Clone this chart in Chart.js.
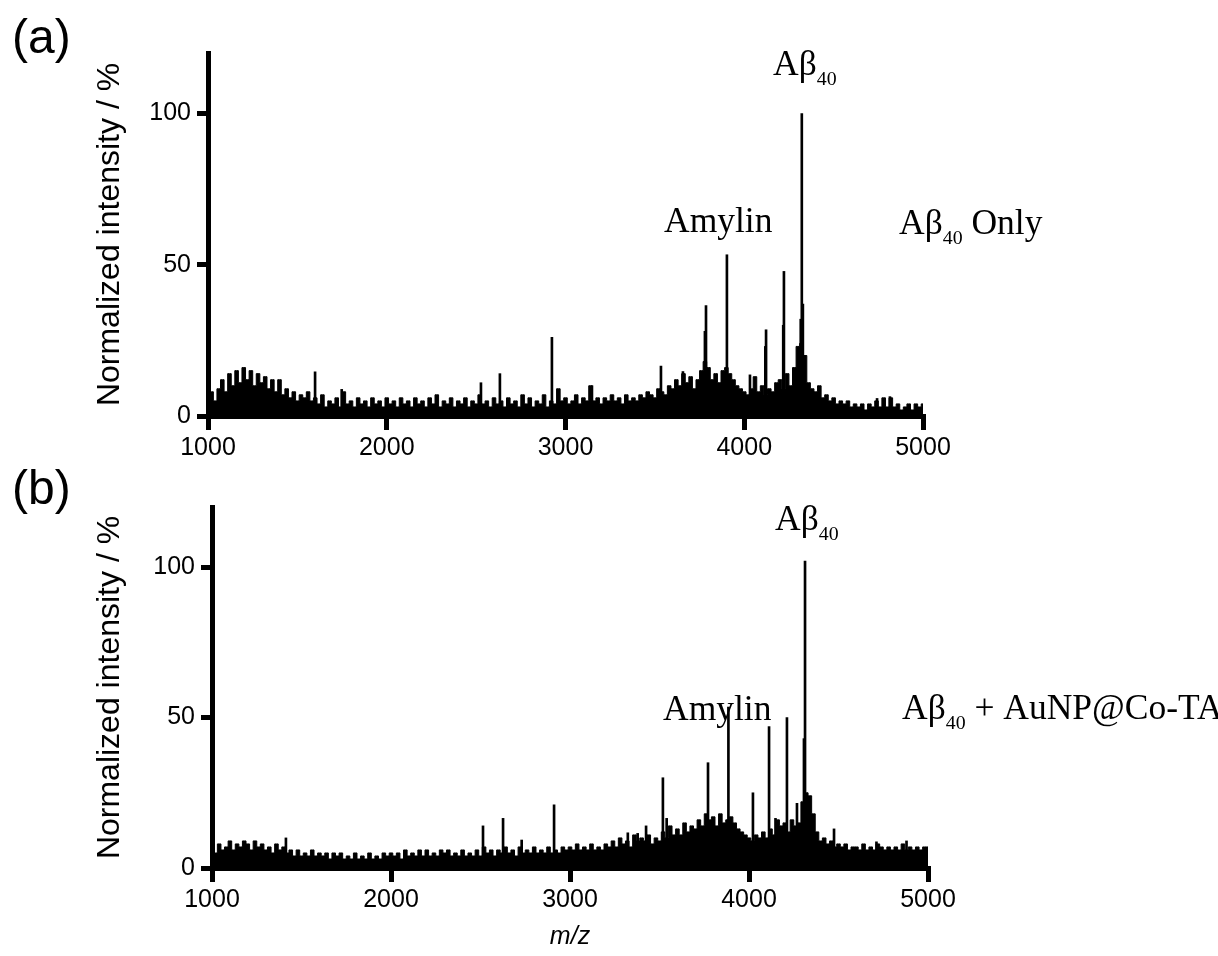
<!DOCTYPE html>
<html><head><meta charset="utf-8">
<script src="https://cdn.jsdelivr.net/npm/chart.js@4.4.1/dist/chart.umd.min.js"></script>
<style>
html,body{margin:0;padding:0;background:#fff;}
#wrap{position:relative;width:1218px;height:956px;overflow:hidden;background:#fff;}
.panel{position:absolute;left:0;width:1218px;}
canvas{display:block;}
</style></head><body>
<div id="wrap">
<div class="panel" style="top:0;height:478px"><canvas id="cA" width="1218" height="478"></canvas></div>
<div class="panel" style="top:440px;height:516px"><canvas id="cB" width="1218" height="516"></canvas></div>
</div>
<script>
// ---- data ----
const mzStart = 1000, mzStep = 20;          // m/z grid of the baseline noise
const xTicks = [1000, 2000, 3000, 4000, 5000];
const yTicks = [0, 50, 100];

// (a) Abeta40 only : baseline noise intensity (%) every 20 m/z, 1000..5000
const noiseA = [
  6, 8, 5, 9, 12, 8, 14, 10, 15, 11,
  16, 12, 15, 10, 14, 11, 13, 9, 12, 8,
  12, 7, 9, 6, 8, 5, 7, 6, 8, 5,
  6, 4, 7, 3, 5, 4, 6, 3, 8, 4,
  5, 3, 6, 4, 5, 3, 6, 4, 5, 3,
  6, 4, 5, 3, 6, 4, 5, 3, 6, 4,
  5, 3, 6, 4, 7, 3, 5, 4, 6, 3,
  5, 4, 6, 3, 5, 4, 7, 4, 5, 3,
  6, 4, 5, 3, 6, 4, 5, 3, 7, 4,
  6, 3, 5, 4, 7, 3, 5, 4, 9, 5,
  6, 4, 5, 7, 4, 6, 5, 10, 5, 6,
  4, 6, 5, 7, 5, 6, 4, 7, 5, 6,
  5, 7, 6, 8, 7, 6, 9, 8, 7, 10,
  9, 12, 10, 14, 11, 13, 9, 12, 15, 18,
  16, 12, 14, 11, 15, 16, 14, 12, 10, 9,
  8, 7, 9, 13, 8, 10, 7, 9, 8, 11,
  12, 9, 14, 10, 16, 23, 24, 20, 11, 9,
  8, 10, 6, 7, 5, 6, 4, 5, 4, 5,
  3, 4, 3, 4, 2, 4, 3, 5, 3, 6,
  3, 6, 3, 4, 2, 3, 4, 2, 4, 3,
  4
];
// (a) sharp peaks
const peakMzA  = [1599, 1748, 2527, 2633, 2924, 3148, 3534, 3657, 3780, 3786, 3903, 4032, 4118, 4122, 4218, 4222, 4316, 4322, 4328, 4743, 4815];
const peakIntA = [14.6, 8.8, 11, 14, 26, 10, 16.5, 14.7, 28, 36.5, 53.3, 13.6, 23, 28.5, 30, 47.8, 32, 100, 37, 5.8, 6.4];

// (b) Abeta40 + AuNP@Co-TA : baseline noise every 20 m/z, 1000..5000
const noiseB = [
  7, 5, 8, 6, 7, 9, 6, 8, 7, 9,
  8, 6, 9, 7, 8, 6, 7, 5, 8, 6,
  7, 5, 6, 4, 6, 4, 5, 4, 6, 4,
  5, 4, 5, 3, 5, 4, 5, 3, 4, 3,
  5, 3, 4, 3, 5, 3, 4, 3, 5, 4,
  5, 4, 5, 3, 6, 4, 5, 4, 6, 4,
  6, 4, 5, 4, 6, 5, 6, 4, 5, 4,
  6, 4, 5, 4, 6, 4, 7, 5, 6, 4,
  6, 5, 7, 5, 6, 4, 7, 5, 6, 5,
  7, 5, 6, 5, 7, 5, 6, 5, 7, 6,
  7, 6, 8, 6, 7, 6, 8, 6, 7, 6,
  8, 7, 9, 7, 10, 8, 9, 7, 11, 9,
  10, 9, 11, 8, 10, 9, 12, 10, 14, 11,
  13, 11, 15, 12, 14, 13, 16, 14, 18, 16,
  17, 14, 18, 15, 16, 17, 15, 13, 12, 11,
  10, 9, 11, 10, 12, 10, 13, 11, 16, 14,
  15, 12, 16, 14, 15, 22, 25, 24, 18, 12,
  9, 10, 8, 9, 7, 8, 7, 8, 6, 7,
  7, 6, 8, 6, 7, 6, 8, 7, 6, 7,
  6, 7, 6, 8, 6, 7, 6, 7, 6, 7,
  7
];
const peakMzB  = [1413, 2514, 2626, 2730, 2911, 3323, 3378, 3425, 3519, 3540, 3771, 3885, 4022, 4112, 4148, 4212, 4268, 4307, 4313, 4475, 4712, 4880];
const peakIntB = [10, 14, 16.5, 9.3, 21, 11.7, 11.5, 14, 30, 16.5, 35, 53.5, 25, 47, 16.5, 50, 21.5, 43, 102, 13, 8.7, 9];

// ---- drawing ----
const SANS = '"Liberation Sans", Arial, Helvetica, sans-serif';
const SERIF = '"Liberation Serif", "Times New Roman", serif';

const textPlugin = {
  id: 'panelText',
  afterDraw(chart, args, opts) {
    const ctx = chart.ctx;
    ctx.save();
    ctx.fillStyle = '#000';
    ctx.textBaseline = 'alphabetic';
    ctx.textAlign = 'left';
    for (const it of opts.items || []) {
      let x = it.x;
      for (const [t, sub] of it.parts) {
        const fs = sub ? it.size * 0.56 : it.size;
        ctx.font = fs + 'px ' + it.family;
        ctx.fillText(t, x, it.y + (sub ? it.size * 0.29 : 0));
        x += ctx.measureText(t).width;
      }
    }
    ctx.restore();
  }
};

function makePanel(id, noise, pkMz, pkInt, o) {
  const noisePts = noise.map((v, i) => ({ x: mzStart + i * mzStep, y: v }));
  const peakPts = pkMz.map((m, i) => ({ x: m, y: pkInt[i] }));
  return new Chart(document.getElementById(id), {
    type: 'line',
    data: { datasets: [
      { type: 'line', data: noisePts, borderColor: '#000', backgroundColor: '#000',
        borderWidth: 1, fill: 'origin', pointRadius: 0, tension: 0, stepped: 'middle', order: 2 },
      { type: 'bar', data: peakPts, backgroundColor: '#000', borderWidth: 0,
        barThickness: 2, grouped: false, order: 1 }
    ]},
    options: {
      responsive: false, animation: false, devicePixelRatio: 1,
      layout: { padding: { left: o.padLeft, top: o.padTop, right: o.padRight, bottom: 0 } },
      plugins: { legend: { display: false }, tooltip: { enabled: false },
                 panelText: { items: o.items } },
      scales: {
        x: {
          type: 'linear', min: 1000, max: 5000, offset: false,
          afterBuildTicks: s => { s.ticks = xTicks.map(v => ({ value: v })); },
          afterFit: s => { s.height = o.xHeight; s.paddingLeft = 0; s.paddingRight = 0; },
          grid: { offset: false, drawOnChartArea: false, drawTicks: true, tickLength: 14, tickWidth: 5,
                  tickColor: '#000', lineWidth: 5, color: '#000' },
          border: { display: true, color: '#000', width: 5 },
          ticks: { font: { family: SANS, size: 25 }, color: '#000', padding: 3,
                   maxRotation: 0, autoSkip: false, callback: v => String(v) },
          title: o.xTitle ? { display: true, text: o.xTitle, color: '#000',
                   font: { family: SANS, size: 25, style: 'italic' }, padding: { top: 0, bottom: 4 } }
                 : { display: false }
        },
        y: {
          type: 'linear', min: 0, max: 120,
          afterBuildTicks: s => { s.ticks = yTicks.map(v => ({ value: v })); },
          afterFit: s => { s.width = o.yWidth; s.paddingTop = 0; s.paddingBottom = 0; },
          grid: { offset: false, drawOnChartArea: false, drawTicks: true, tickLength: 11, tickWidth: 5,
                  tickColor: '#000', lineWidth: 5, color: '#000' },
          border: { display: true, color: '#000', width: 5 },
          ticks: { font: { family: SANS, size: 25 }, color: '#000', padding: 6,
                   callback: v => String(v) },
          title: { display: true, text: 'Normalized intensity / %', color: '#000',
                   font: { family: SANS, size: 32 }, padding: { top: 4, bottom: 4 } }
        }
      }
    },
    plugins: [textPlugin]
  });
}

makePanel('cA', noiseA, peakMzA, peakIntA, {
  padLeft: 87, yWidth: 121, padTop: 53, padRight: 295, xHeight: 62, xTitle: null,
  items: [
    { parts: [['(a)', 0]], x: 12, y: 53, size: 48, family: SANS },
    { parts: [['A\u03B2', 0], ['40', 1]], x: 773, y: 75, size: 35.5, family: SERIF },
    { parts: [['Amylin', 0]], x: 664, y: 232, size: 35.5, family: SERIF },
    { parts: [['A\u03B2', 0], ['40', 1], [' Only', 0]], x: 899, y: 234, size: 35.5, family: SERIF }
  ]
});

// panel (b) canvas starts at page y = 440
makePanel('cB', noiseB, peakMzB, peakIntB, {
  padLeft: 87, yWidth: 125, padTop: 67, padRight: 290, xHeight: 88, xTitle: 'm/z',
  items: [
    { parts: [['(b)', 0]], x: 12, y: 64, size: 48, family: SANS },
    { parts: [['A\u03B2', 0], ['40', 1]], x: 775, y: 90, size: 35.5, family: SERIF },
    { parts: [['Amylin', 0]], x: 663, y: 280, size: 35.5, family: SERIF },
    { parts: [['A\u03B2', 0], ['40', 1], [' + AuNP@Co-TA', 0]], x: 902, y: 279, size: 35.5, family: SERIF }
  ]
});
</script>
</body></html>
